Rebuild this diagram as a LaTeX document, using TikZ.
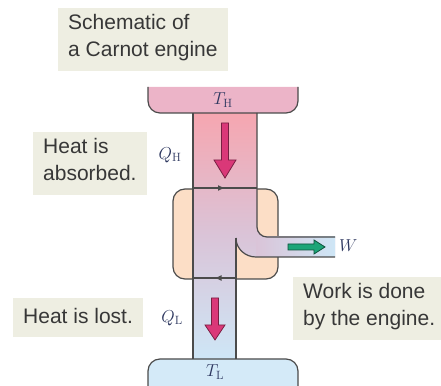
\documentclass[tikz,border=0pt]{standalone}
\usepackage[no-math]{fontspec}
\setmainfont{Liberation Sans}
\usepackage{amsmath}
\usetikzlibrary{positioning, arrows.meta, decorations.markings}

\definecolor{hotres}{RGB}{236,180,200}
\definecolor{coldres}{RGB}{212,234,248}
\definecolor{hotflow}{RGB}{246,166,176}
\definecolor{midflow}{RGB}{218,196,216}
\definecolor{coldflow}{RGB}{206,230,246}
\definecolor{enginefill}{RGB}{252,222,198}
\definecolor{notebg}{RGB}{238,238,226}
\definecolor{heatpink}{RGB}{218,56,120}
\definecolor{workgreen}{RGB}{28,165,120}
\definecolor{edgegray}{RGB}{75,75,75}
\definecolor{labelblue}{RGB}{45,55,95}
\definecolor{textgray}{RGB}{55,55,55}

\begin{document}
\begin{tikzpicture}[x=1pt, y=1pt,
  edge/.style={draw=edgegray, line width=1.2pt},
  notebox/.style={fill=notebg, text=textgray, align=left, inner xsep=10pt, inner ysep=6pt,
    font=\fontsize{21}{27}\selectfont, execute at begin node=\strut, execute at end node=\strut},
  tlabel/.style={text=labelblue, font=\fontsize{17}{20}\selectfont, inner sep=1pt},
  heatarrow/.style={fill=heatpink, draw=heatpink!55!black, line width=0.8pt},
  workarrow/.style={fill=workgreen, draw=workgreen!50!black, line width=0.8pt},
  midarrow/.style={postaction={decorate}, decoration={markings,
    mark=at position 0.5 with {\arrow{Latex[length=7pt, width=6pt]}}}}]
\useasboundingbox (0,0) rectangle (441,385);

% Engine body
\filldraw[edge, fill=enginefill, rounded corners=12pt] (173,106) rectangle (278,196);

% Flow of energy through the engine
\shade[top color=hotflow, bottom color=coldflow, middle color=midflow]
  (193,272) -- (257,272) -- (257,158) to[out=-90, in=180] (267,148) -- (335,148)
  -- (335,128) -- (256,128) to[out=180, in=-90] (236,147) -- (236,26) -- (193,26) -- cycle;
\shade[left color=midflow, right color=coldflow] (256,128) rectangle (335,148);

% Reservoirs
\filldraw[edge, fill=hotres, rounded corners=12pt] (148,298) -- (148,272) -- (298,272) -- (298,298);
\filldraw[edge, fill=coldres, rounded corners=12pt] (148,-6) -- (148,26) -- (298,26) -- (298,-6);

% Pipe walls
\draw[edge] (193,272) -- (193,26);
\draw[edge] (257,272) -- (257,158) to[out=-90, in=180] (267,148) -- (335,148);
\draw[edge] (335,128) -- (256,128) to[out=180, in=-90] (236,147);
\draw[edge] (236,147) -- (236,26);

% Cycle lines
\draw[edge, midarrow] (193,197) -- (257,197);
\draw[edge, midarrow] (236,107) -- (193,107);

% Heat and work arrows
\filldraw[heatarrow] (221.5,262) -- ++(7,0) -- ++(0,-37) -- ++(7.5,0) -- ++(-11,-18) -- ++(-11,18) -- ++(7.5,0) -- cycle;
\filldraw[heatarrow] (211.5,87) -- ++(7,0) -- ++(0,-27) -- ++(6.5,0) -- ++(-10,-15) -- ++(-10,15) -- ++(6.5,0) -- cycle;
\filldraw[workarrow] (288,135) -- ++(26,0) -- ++(0,-4) -- ++(11,7) -- ++(-11,7) -- ++(0,-4) -- ++(-26,0) -- cycle;

% Symbols
\node[tlabel] (th) at (223,285) {$T_{\mathrm{H}}$};
\node[tlabel] (tl) at (215,13) {$T_{\mathrm{L}}$};
\node[tlabel] (qh) at (170,230) {$Q_{\mathrm{H}}$};
\node[tlabel] (ql) at (172,67) {$Q_{\mathrm{L}}$};
\node[tlabel, anchor=west] (w) at (338,139) {$W$};

% Notes
\node[notebox, anchor=north west] (schematic) at (58,377) {Schematic of\\a Carnot engine};
\node[notebox, anchor=north west] (absorbed) at (33,253) {Heat is\\absorbed.};
\node[notebox, anchor=north west] (lost) at (13,87) {Heat is lost.};
\node[notebox, anchor=north west] (work) at (293,108) {Work is done\\by the engine.};
\end{tikzpicture}
\end{document}
